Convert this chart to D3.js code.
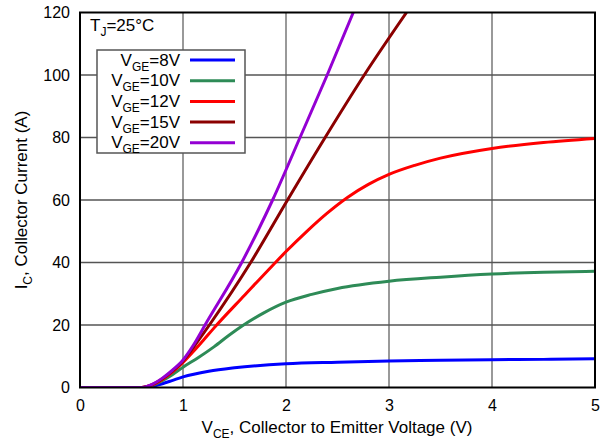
<!DOCTYPE html>
<html>
<head>
<meta charset="utf-8">
<script src="https://cdn.jsdelivr.net/npm/d3@7"></script>
<style>
  html, body { margin: 0; padding: 0; background: #fff; }
  svg { display: block; font-family: "Liberation Sans", Arial, Helvetica, sans-serif; }
</style>
</head>
<body>
<svg id="chart" width="608" height="444"></svg>
<script>
// Output characteristics, IC vs VCE at TJ = 25 °C, one curve per gate voltage
const xTicks = [0, 1, 2, 3, 4, 5];
const yTicks = [0, 20, 40, 60, 80, 100, 120];

const vge8V = [[0,0],[0.6,0],[0.7,0.4],[0.8,1.2],[0.9,2.3],[1,3.4],[1.25,5.2],[1.5,6.3],[2,7.6],[2.5,8.1],[3,8.5],[3.5,8.7],[4,8.9],[4.5,9.0],[5,9.2]];
const vge10V = [[0,0],[0.6,0],[0.7,0.7],[0.8,2.2],[0.9,4.2],[1,6.5],[1.15,9.6],[1.3,13],[1.45,16.8],[1.57,19.6],[1.78,23.8],[2,27.3],[2.25,29.8],[2.5,31.7],[3,34],[3.5,35.3],[4,36.3],[4.5,36.9],[5,37.2]];
const vge12V = [[0,0],[0.6,0],[0.7,0.8],[0.8,2.6],[0.9,5],[1,8],[1.1,11.5],[1.2,15.2],[1.3,19],[1.6,29.6],[1.877,39.3],[2,43.5],[2.2,49.9],[2.4,55.8],[2.6,60.9],[2.8,65],[3,68.2],[3.25,71.1],[3.5,73.4],[4,76.5],[4.5,78.4],[5,79.7]];
const vge15V = [[0,0],[0.6,0],[0.7,0.9],[0.8,2.8],[0.9,5.3],[1,8.5],[1.1,12.8],[1.256,20],[1.657,40],[2.015,60],[2.38,80],[2.76,100],[3.17,120]];
const vge20V = [[0,0],[0.6,0],[0.7,1],[0.8,3],[0.9,5.6],[1,8.8],[1.1,13.5],[1.214,20],[1.57,40],[1.731,50.4],[1.87,60],[2.136,80],[2.40,100],[2.653,120]];

const seriesNames = ["8V", "10V", "12V", "15V", "20V"];
const seriesColors = ["#0000ff", "#2e8b57", "#ff0000", "#8b0000", "#9400d3"];
const seriesData = [vge8V, vge10V, vge12V, vge15V, vge20V];

const svg = d3.select("#chart");
const plotL = 80, plotR = 595, plotT = 12.5, plotB = 387.5;

const x = d3.scaleLinear().domain([0, 5]).range([plotL, plotR]);
const y = d3.scaleLinear().domain([0, 120]).range([plotB, plotT]);

// grid lines
const grid = svg.append("g");
grid.selectAll("line.gx").data(xTicks.slice(1, -1)).join("line")
  .attr("x1", d => x(d)).attr("x2", d => x(d))
  .attr("y1", plotT).attr("y2", plotB)
  .attr("stroke", "#777").attr("stroke-width", 1.5);
grid.selectAll("line.gy").data(yTicks.slice(1, -1)).join("line")
  .attr("x1", plotL).attr("x2", plotR)
  .attr("y1", d => y(d)).attr("y2", d => y(d))
  .attr("stroke", "#555").attr("stroke-width", 1.5);

// axes (labels only, the frame is drawn separately)
const xAxis = svg.append("g").attr("transform", `translate(0,${plotB})`)
  .call(d3.axisBottom(x).tickValues(xTicks).tickSize(0).tickPadding(12).tickFormat(d3.format("d")));
const yAxis = svg.append("g").attr("transform", `translate(${plotL},0)`)
  .call(d3.axisLeft(y).tickValues(yTicks).tickSize(0).tickPadding(10).tickFormat(d3.format("d")));
[xAxis, yAxis].forEach(a => {
  a.select(".domain").remove();
  a.selectAll("text").attr("font-size", 16).attr("fill", "#000")
    .attr("font-family", "Liberation Sans, Arial, sans-serif");
});

// curves
svg.append("clipPath").attr("id", "plotclip")
  .append("rect").attr("x", plotL).attr("y", plotT).attr("width", plotR - plotL).attr("height", plotB - plotT);
const line = d3.line().x(d => x(d[0])).y(d => y(d[1])).curve(d3.curveMonotoneX);
svg.append("g").attr("clip-path", "url(#plotclip)")
  .selectAll("path").data(seriesData).join("path")
  .attr("d", line)
  .attr("fill", "none")
  .attr("stroke", (d, i) => seriesColors[i])
  .attr("stroke-width", 3)
  .attr("stroke-linejoin", "round");

// frame
svg.append("rect").attr("x", plotL).attr("y", plotT)
  .attr("width", plotR - plotL).attr("height", plotB - plotT)
  .attr("fill", "none").attr("stroke", "#000").attr("stroke-width", 2);

// junction temperature note
const tj = svg.append("text").attr("x", 90).attr("y", 31).attr("font-size", 17);
tj.append("tspan").text("T");
tj.append("tspan").attr("font-size", 12).attr("dy", 5).text("J");
tj.append("tspan").attr("dy", -5).text("=25°C");

// legend
const lg = svg.append("g");
lg.append("rect").attr("x", 97).attr("y", 50).attr("width", 148).attr("height", 103)
  .attr("fill", "#fff").attr("stroke", "#555").attr("stroke-width", 1.5);
const rows = lg.selectAll("g.row").data(seriesNames).join("g")
  .attr("transform", (d, i) => `translate(0,${60 + i * 20.7})`);
rows.append("line").attr("x1", 190).attr("x2", 235).attr("y1", 0).attr("y2", 0)
  .attr("stroke", (d, i) => seriesColors[i]).attr("stroke-width", 3);
const lt = rows.append("text").attr("x", 180).attr("y", 5.5)
  .attr("text-anchor", "end").attr("font-size", 17);
lt.append("tspan").text("V");
lt.append("tspan").attr("font-size", 12).attr("dy", 5).text("GE");
lt.append("tspan").attr("dy", -5).text(d => "=" + d);

// axis titles
const xt = svg.append("text").attr("x", 337).attr("y", 433).attr("text-anchor", "middle").attr("font-size", 17);
xt.append("tspan").text("V");
xt.append("tspan").attr("font-size", 12).attr("dy", 5).text("CE");
xt.append("tspan").attr("dy", -5).text(", Collector to Emitter Voltage (V)");

const yt = svg.append("text").attr("transform", "translate(27,200) rotate(-90)")
  .attr("text-anchor", "middle").attr("font-size", 17);
yt.append("tspan").text("I");
yt.append("tspan").attr("font-size", 12).attr("dy", 5).text("C");
yt.append("tspan").attr("dy", -5).text(", Collector Current (A)");
</script>
</body>
</html>
